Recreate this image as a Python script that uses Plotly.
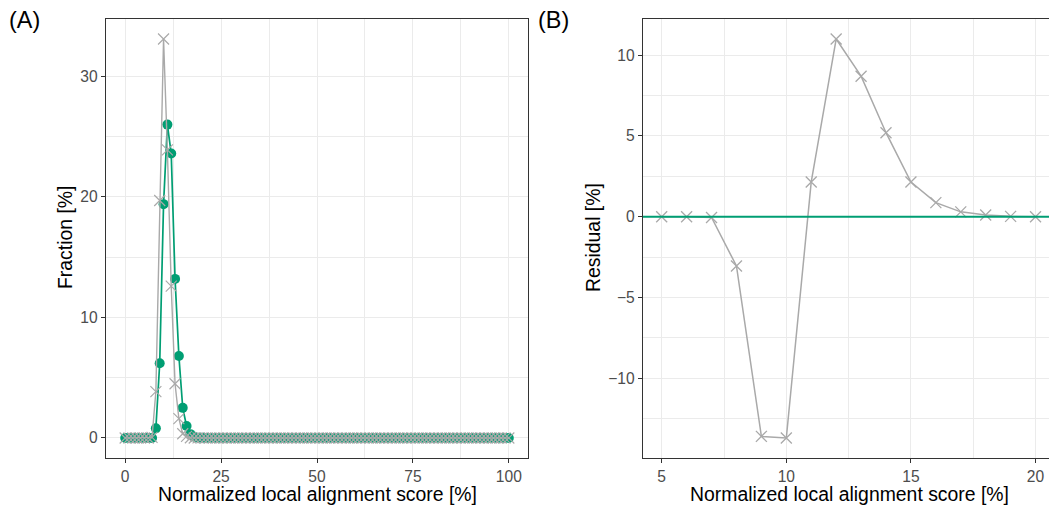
import plotly.graph_objects as go

# Panel A: observed distribution (grey crosses) and fitted model (green dots)
score = list(range(0, 101))

observed_peak = {7: 0.05, 8: 3.85, 9: 19.7, 10: 33.1, 11: 23.9, 12: 12.6,
                 13: 4.5, 14: 1.6, 15: 0.35, 16: 0.13, 17: 0.02, 18: 0.0,
                 19: 0.01, 20: 0.01}
fitted_peak = {7: 0.0, 8: 0.8, 9: 6.2, 10: 19.4, 11: 26.0, 12: 23.6,
               13: 13.2, 14: 6.8, 15: 2.5, 16: 1.0, 17: 0.32, 18: 0.1,
               19: 0.03, 20: 0.01}
observed = [observed_peak.get(s, 0.0) for s in score]
fitted = [fitted_peak.get(s, 0.0) for s in score]

# Panel B: residual (fit minus observation) over the peak region
resid_score = [5, 6, 7, 8, 9, 10, 11, 12, 13, 14, 15, 16, 17, 18, 19, 20]
residual = [0.0, 0.0, -0.05, -3.05, -13.6, -13.7, 2.15, 11.0, 8.7, 5.2,
            2.15, 0.87, 0.3, 0.1, 0.02, 0.0]

W, H = 1049, 509
GREEN = "#009E73"
GREY = "#A9A9A9"
GRID = "#EBEBEB"
AXIS = "#333333"
FAMILY = "Liberation Sans, Arial, sans-serif"
TICKFONT = dict(family=FAMILY, size=15.6, color="#4D4D4D")
TITLEFONT = dict(family=FAMILY, size=19.4, color="#000000")


def px_x(p):
    return p / W


def px_y(p):
    return (H - p) / H


fig = go.Figure()

fig.add_trace(go.Scatter(
    x=score, y=fitted, mode="lines+markers", xaxis="x", yaxis="y",
    line=dict(color=GREEN, width=1.7),
    marker=dict(symbol="circle", size=10, color=GREEN),
    showlegend=False,
))
fig.add_trace(go.Scatter(
    x=score, y=observed, mode="lines+markers", xaxis="x", yaxis="y",
    line=dict(color=GREY, width=1.4),
    marker=dict(symbol="x-thin", size=11, line=dict(color=GREY, width=1.15)),
    showlegend=False,
))
fig.add_trace(go.Scatter(
    x=resid_score, y=residual, mode="lines+markers", xaxis="x2", yaxis="y2",
    line=dict(color=GREY, width=1.5),
    marker=dict(symbol="x-thin", size=11, line=dict(color=GREY, width=1.3)),
    showlegend=False,
))

fig.add_shape(type="line", xref="x2 domain", yref="y2", x0=0, x1=1, y0=0, y1=0,
              line=dict(color=GREEN, width=1.9), layer="above")

ydom = [px_y(458), px_y(19)]
common = dict(
    showline=True, linecolor=AXIS, linewidth=1.3,
    ticks="outside", ticklen=4, tickcolor=AXIS, tickwidth=1.1,
    tickfont=TICKFONT, showgrid=True, gridcolor=GRID, gridwidth=1.4,
    zeroline=False,
)
minor_style = dict(showgrid=True, gridcolor=GRID, gridwidth=0.8, ticks="")

fig.update_layout(
    width=W, height=H,
    margin=dict(l=0, r=0, t=0, b=0),
    paper_bgcolor="white", plot_bgcolor="white",
    xaxis=dict(domain=[px_x(106), px_x(528)], range=[-5, 105], anchor="y",
               tickvals=[0, 25, 50, 75, 100], mirror=True,
               minor=dict(dtick=12.5, tick0=0, **minor_style), **common),
    yaxis=dict(domain=ydom, range=[-1.66, 34.76], anchor="x",
               tickvals=[0, 10, 20, 30], mirror=True,
               minor=dict(dtick=5, tick0=0, **minor_style), **common),
    xaxis2=dict(domain=[px_x(643), 1.0], range=[4.25, 20.54], anchor="y2",
                tickvals=[5, 10, 15, 20], mirror=True,
                minor=dict(dtick=2.5, tick0=0, **minor_style), **common),
    yaxis2=dict(domain=ydom, range=[-14.94, 12.24], anchor="x2",
                tickvals=[-10, -5, 0, 5, 10],
                ticktext=["\u221210", "\u22125", "0", "5", "10"],
                mirror=False,
                minor=dict(dtick=2.5, tick0=0, **minor_style), **common),
)

annotations = [
    dict(text="(A)", x=px_x(7), y=px_y(20), xanchor="left", yanchor="middle",
         font=dict(family=FAMILY, size=23.4, color="#000")),
    dict(text="(B)", x=px_x(536), y=px_y(20), xanchor="left", yanchor="middle",
         font=dict(family=FAMILY, size=23.4, color="#000")),
    dict(text="Normalized local alignment score [%]", x=px_x(317), y=px_y(494),
         xanchor="center", yanchor="middle", font=TITLEFONT),
    dict(text="Normalized local alignment score [%]", x=px_x(849), y=px_y(494),
         xanchor="center", yanchor="middle", font=TITLEFONT),
    dict(text="Fraction [%]", x=px_x(65), y=px_y(238), textangle=-90,
         xanchor="center", yanchor="middle", font=TITLEFONT),
    dict(text="Residual [%]", x=px_x(593), y=px_y(238), textangle=-90,
         xanchor="center", yanchor="middle", font=TITLEFONT),
]
for a in annotations:
    fig.add_annotation(xref="paper", yref="paper", showarrow=False, **a)

fig.write_html("out.html")
